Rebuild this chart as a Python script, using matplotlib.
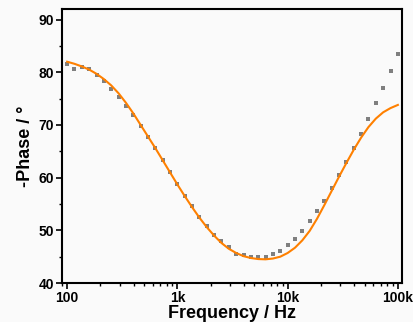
import numpy as np
import matplotlib
matplotlib.use("Agg")
import matplotlib.pyplot as plt
from matplotlib.ticker import FixedLocator, FixedFormatter, MultipleLocator, LogLocator, NullFormatter

plt.rcParams['font.family'] = ['Liberation Sans', 'DejaVu Sans']
plt.rcParams['font.weight'] = 'bold'

# frequencies (Hz), 15 points per decade, 100 Hz .. 100 kHz
freq = [100, 116.6, 135.9, 158.5, 184.8, 215.4, 251.2, 292.9, 341.5, 398.1,
        464.2, 541.2, 631.0, 735.6, 857.7,
        1000, 1166, 1359, 1585, 1848, 2154, 2512, 2929, 3415, 3981,
        4642, 5412, 6310, 7356, 8577,
        10000, 11660, 13590, 15850, 18480, 21540, 25120, 29290, 34150, 39810,
        46420, 54120, 63100, 73560, 85770, 100000]

# measured -phase (deg)
phase_meas = [81.5, 80.55, 81.05, 80.55, 79.4, 78.3, 76.9, 75.35, 73.6, 71.8,
              69.8, 67.8, 65.6, 63.4, 61.0, 58.8, 56.6, 54.6, 52.6, 50.9,
              49.2, 48.0, 46.8, 45.6, 45.3, 45.0, 44.9, 45.0, 45.5, 46.1,
              47.2, 48.4, 49.9, 51.7, 53.7, 55.6, 58.1, 60.5, 63.0, 65.7,
              68.3, 71.2, 74.2, 77.1, 80.3, 83.5]

# fitted -phase (deg)
phase_fit = [82.0, 81.6, 81.1, 80.5, 79.7, 78.7, 77.5, 76.0, 74.2, 72.2,
             70.0, 67.8, 65.6, 63.3, 61.0, 58.7, 56.5, 54.4, 52.4, 50.6,
             49.0, 47.6, 46.5, 45.7, 45.1, 44.75, 44.55, 44.5, 44.65, 45.0,
             45.7, 46.7, 48.1, 49.9, 52.2, 54.8, 57.5, 60.2, 62.8, 65.3,
             67.6, 69.6, 71.2, 72.4, 73.2, 73.8]

xticks = [100, 1000, 10000, 100000]
xticklabels = ['100', '1k', '10k', '100k']
yticks = [40, 50, 60, 70, 80, 90]

fig = plt.figure(figsize=(4.14, 3.22), dpi=100, facecolor='#fafafa')
ax = fig.add_axes([0.150, 0.121, 0.821, 0.851])
ax.set_facecolor('#fafafa')

ax.plot(freq, phase_meas, 's', color='#7f7f7f', markersize=3, markeredgewidth=0)
ax.plot(freq, phase_fit, '-', color='#ff8000', linewidth=1.5)

ax.set_xscale('log')
ax.set_xlim(90, 109000)
ax.set_ylim(40, 92)

ax.xaxis.set_major_locator(FixedLocator(xticks))
ax.xaxis.set_major_formatter(FixedFormatter(xticklabels))
ax.xaxis.set_minor_locator(LogLocator(base=10, subs=np.arange(2, 10)))
ax.xaxis.set_minor_formatter(NullFormatter())
ax.set_yticks(yticks)
ax.yaxis.set_minor_locator(MultipleLocator(5))

for s in ax.spines.values():
    s.set_linewidth(1.5)
ax.tick_params(which='major', direction='out', length=4, width=1.2, labelsize=10, pad=2)
ax.tick_params(which='minor', direction='out', length=2.5, width=1.0)
ax.tick_params(axis='x', which='both', top=False)
ax.tick_params(axis='y', which='both', right=False)

ax.set_xlabel('Frequency / Hz', fontsize=13, fontweight='bold', labelpad=0)
ax.set_ylabel('-Phase / °', fontsize=13, fontweight='bold', labelpad=3)

fig.savefig('out.png', dpi=100, facecolor=fig.get_facecolor())
